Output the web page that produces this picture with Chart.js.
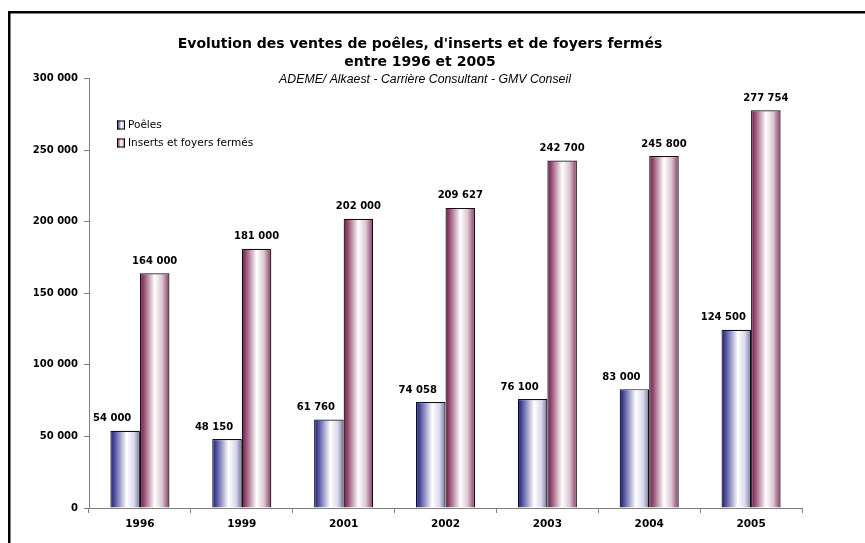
<!DOCTYPE html>
<html>
<head>
<meta charset="utf-8">
<script src="https://cdn.jsdelivr.net/npm/chart.js@4.4.1/dist/chart.umd.min.js"></script>
<style>
  html, body { margin: 0; padding: 0; background: #fff; }
  #wrap { width: 865px; height: 543px; position: relative; }
</style>
</head>
<body>
<div id="wrap"><canvas id="chart"></canvas></div>
<script>
// données
const annees = ['1996', '1999', '2001', '2002', '2003', '2004', '2005'];
const poeles = [54000, 48150, 61760, 74058, 76100, 83000, 124500];
const inserts = [164000, 181000, 202000, 209627, 242700, 245800, 277754];
const seriesNames = ['Poêles', 'Inserts et foyers fermés'];
const yTicks = [0, 50000, 100000, 150000, 200000, 250000, 300000];

const titre1 = "Evolution des ventes de poêles, d'inserts et de foyers fermés";
const titre2 = 'entre 1996 et 2005';
const sousTitre = 'ADEME/ Alkaest - Carrière Consultant - GMV Conseil';

function fmt(v) {
    return String(v).replace(/\B(?=(\d{3})+(?!\d))/g, ' ');
}

// dégradés horizontaux façon Excel
const stops = [
    [[0, '#1f1f7a'], [0.12, '#45459a'], [0.55, '#ffffff'], [0.8, '#d8d8ea'], [1, '#7373a8']],
    [[0, '#6a1a47'], [0.12, '#91446c'], [0.5, '#ffffff'], [0.75, '#dcc6d2'], [1, '#853864']]
];
function grad(ctx, x0, x1, idx) {
    const g = ctx.createLinearGradient(x0, 0, x1, 0);
    stops[idx].forEach(s => g.addColorStop(s[0], s[1]));
    return g;
}

const decorPlugin = {
    id: 'decor',
    beforeDraw(chart) {
        const ctx = chart.ctx;
        ctx.save();
        ctx.fillStyle = '#fff';
        ctx.fillRect(0, 0, chart.width, chart.height);
        // cadre
        ctx.fillStyle = '#000';
        ctx.fillRect(8, 11, 2.5, chart.height);
        ctx.fillRect(8, 11, chart.width, 2.5);
        // titres
        ctx.textAlign = 'center';
        ctx.textBaseline = 'middle';
        ctx.font = 'bold 14px "DejaVu Sans", Verdana, sans-serif';
        ctx.fillText(titre1, 420, 44);
        ctx.fillText(titre2, 420, 62);
        ctx.font = 'italic 12.3px "Liberation Sans", Arial, sans-serif';
        ctx.fillText(sousTitre, 425, 80);
        // légende
        ctx.textAlign = 'left';
        ctx.font = '10.5px "DejaVu Sans", Verdana, sans-serif';
        seriesNames.forEach((name, i) => {
            const y = 125 + i * 18;
            ctx.fillStyle = grad(ctx, 117, 125, i);
            ctx.fillRect(117, y - 4.5, 8, 9);
            ctx.strokeStyle = '#000';
            ctx.lineWidth = 1;
            ctx.strokeRect(117.5, y - 4, 7, 8);
            ctx.fillStyle = '#000';
            ctx.fillText(name, 128, y + 0.5);
        });
        ctx.restore();
    },
    beforeDatasetsDraw(chart) {
        const ctx = chart.ctx;
        chart.data.datasets.forEach((ds, i) => {
            chart.getDatasetMeta(i).data.forEach(el => {
                const w = el.width;
                el.options.backgroundColor = grad(ctx, el.x - w / 2, el.x + w / 2, i);
            });
        });
    },
    afterDatasetsDraw(chart) {
        const ctx = chart.ctx;
        ctx.save();
        ctx.fillStyle = '#000';
        ctx.font = 'bold 10px "DejaVu Sans", Verdana, sans-serif';
        ctx.textAlign = 'center';
        ctx.textBaseline = 'middle';
        chart.data.datasets.forEach((ds, i) => {
            chart.getDatasetMeta(i).data.forEach((el, j) => {
                const dx = i === 0 ? -13 : 0;
                ctx.fillText(fmt(ds.data[j]), el.x + dx, el.y - 12);
            });
        });
        ctx.restore();
    }
};

new Chart(document.getElementById('chart'), {
    type: 'bar',
    data: {
        labels: annees,
        datasets: [
            {
                label: seriesNames[0],
                data: poeles,
                backgroundColor: () => '#6666aa',
                borderColor: '#111',
                borderWidth: 1.2,
                categoryPercentage: 0.58,
                barPercentage: 1
            },
            {
                label: seriesNames[1],
                data: inserts,
                backgroundColor: () => '#aa6688',
                borderColor: '#111',
                borderWidth: 1.2,
                categoryPercentage: 0.58,
                barPercentage: 1
            }
        ]
    },
    options: {
        responsive: true,
        maintainAspectRatio: false,
        animation: false,
        layout: { padding: { top: 78.5, right: 63, bottom: 0, left: 0 } },
        plugins: {
            legend: { display: false },
            title: { display: false },
            tooltip: { enabled: false }
        },
        scales: {
            x: {
                grid: { drawOnChartArea: false, drawTicks: true, tickLength: 5, color: '#808080', offset: true },
                border: { color: '#808080', width: 1 },
                ticks: {
                    color: '#000',
                    padding: 5,
                    font: { family: '"DejaVu Sans", Verdana, sans-serif', size: 10.5, weight: 'bold' }
                },
                afterFit: s => { s.height = 35; }
            },
            y: {
                min: 0,
                max: 300000,
                afterBuildTicks: s => { s.ticks = yTicks.map(v => ({ value: v })); },
                grid: { drawOnChartArea: false, drawTicks: true, tickLength: 5, color: '#808080' },
                border: { color: '#808080', width: 1 },
                ticks: {
                    color: '#000',
                    padding: 6,
                    font: { family: '"DejaVu Sans", Verdana, sans-serif', size: 10, weight: 'bold' },
                    callback: v => fmt(v)
                },
                afterFit: s => { s.width = 89; }
            }
        }
    },
    plugins: [decorPlugin]
});
</script>
</body>
</html>
